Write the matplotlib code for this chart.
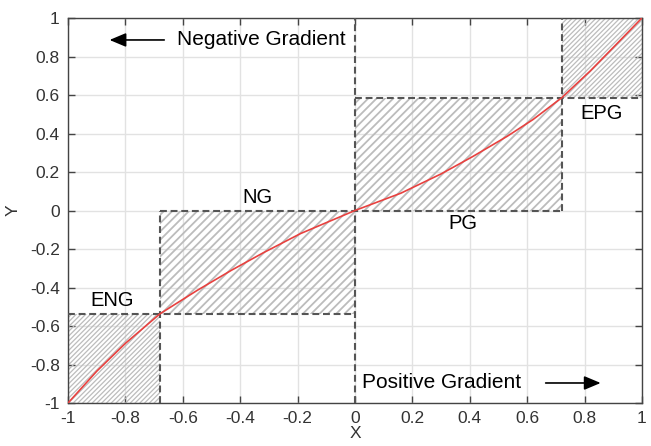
import matplotlib
matplotlib.use("Agg")
import matplotlib.pyplot as plt

# curve
curve_x = [-1.0, -0.9, -0.8, -0.68, -0.55, -0.43, -0.32, -0.19, 0.0,
           0.16, 0.3, 0.41, 0.53, 0.62, 0.72, 0.82, 0.91, 1.0]
curve_y = [-1.0, -0.835, -0.69, -0.537, -0.415, -0.31, -0.22, -0.12, 0.0,
           0.09, 0.19, 0.28, 0.385, 0.472, 0.585, 0.725, 0.862, 1.0]

# region boundaries
neg_x, neg_y = -0.68, -0.537
pos_x, pos_y = 0.72, 0.585

ticks = [-1, -0.8, -0.6, -0.4, -0.2, 0, 0.2, 0.4, 0.6, 0.8, 1]
tick_labels = ["-1", "-0.8", "-0.6", "-0.4", "-0.2", "0", "0.2", "0.4", "0.6", "0.8", "1"]

plt.rcParams['font.family'] = ['Liberation Sans', 'DejaVu Sans']

fig = plt.figure(figsize=(6.51, 4.46), dpi=100)
ax = fig.add_axes([0.1045, 0.0964, 0.8815, 0.8632])

hatch_col = '#bcbcbc'
# hatched regions: outer ones are denser and thinner
with plt.rc_context({'hatch.linewidth': 0.9}):
    ax.fill_between([-1, neg_x], -1, neg_y, facecolor='none', edgecolor=hatch_col,
                    hatch='///////', linewidth=0)
    ax.fill_between([pos_x, 1], pos_y, 1, facecolor='none', edgecolor=hatch_col,
                    hatch='///////', linewidth=0)
with plt.rc_context({'hatch.linewidth': 1.3}):
    ax.fill_between([neg_x, 0], neg_y, 0, facecolor='none', edgecolor=hatch_col,
                    hatch='////', linewidth=0)
    ax.fill_between([0, pos_x], 0, pos_y, facecolor='none', edgecolor=hatch_col,
                    hatch='////', linewidth=0)

# dashed borders
dash = dict(color='#555555', lw=1.5, ls=(0, (3.3, 1.8)), zorder=3)
ax.plot([0, 0], [-1, 1], **dash)
ax.plot([neg_x, pos_x], [0, 0], **dash)
ax.plot([-1, 0], [neg_y, neg_y], **dash)
ax.plot([neg_x, neg_x], [-1, 0], **dash)
ax.plot([0, 1], [pos_y, pos_y], **dash)
ax.plot([pos_x, pos_x], [0, 1], **dash)

ax.plot(curve_x, curve_y, color='#e8413f', lw=1.2, zorder=4)

# labels
ax.text(-0.34, 0.065, "NG", fontsize=14.5, ha='center', va='center', zorder=5)
ax.text(0.375, -0.07, "PG", fontsize=14.5, ha='center', va='center', zorder=5)
ax.text(-0.845, -0.465, "ENG", fontsize=14.5, ha='center', va='center', zorder=5)
ax.text(0.86, 0.505, "EPG", fontsize=14.5, ha='center', va='center', zorder=5)
ax.text(-0.62, 0.886, "Negative Gradient", fontsize=15, ha='left', va='center', zorder=5)
ax.text(0.024, -0.896, "Positive Gradient", fontsize=15, ha='left', va='center', zorder=5)
arrow = dict(arrowstyle='-|>,head_length=1.0,head_width=0.42', color='black', lw=1.2)
ax.annotate("", xy=(-0.865, 0.886), xytext=(-0.655, 0.886), arrowprops=arrow)
ax.annotate("", xy=(0.866, -0.896), xytext=(0.655, -0.896), arrowprops=arrow)

ax.set_xlim(-1, 1)
ax.set_ylim(-1, 1)
ax.set_xticks(ticks)
ax.set_xticklabels(tick_labels)
ax.set_yticks(ticks)
ax.set_yticklabels(tick_labels)
ax.grid(True, color='#e2e2e2', lw=1.0, zorder=0)
ax.set_axisbelow(True)
ax.tick_params(direction='in', length=5, width=1, top=True, right=True,
               labelsize=12.5, labelcolor='#333333', color='#444444', pad=6)
for s in ax.spines.values():
    s.set_color('#444444')
    s.set_linewidth(1.0)
ax.set_xlabel("X", fontsize=12.5, color='#333333', labelpad=0)
ax.set_ylabel("Y", fontsize=12.5, color='#333333', labelpad=7)

fig.savefig("out.png", dpi=100)
